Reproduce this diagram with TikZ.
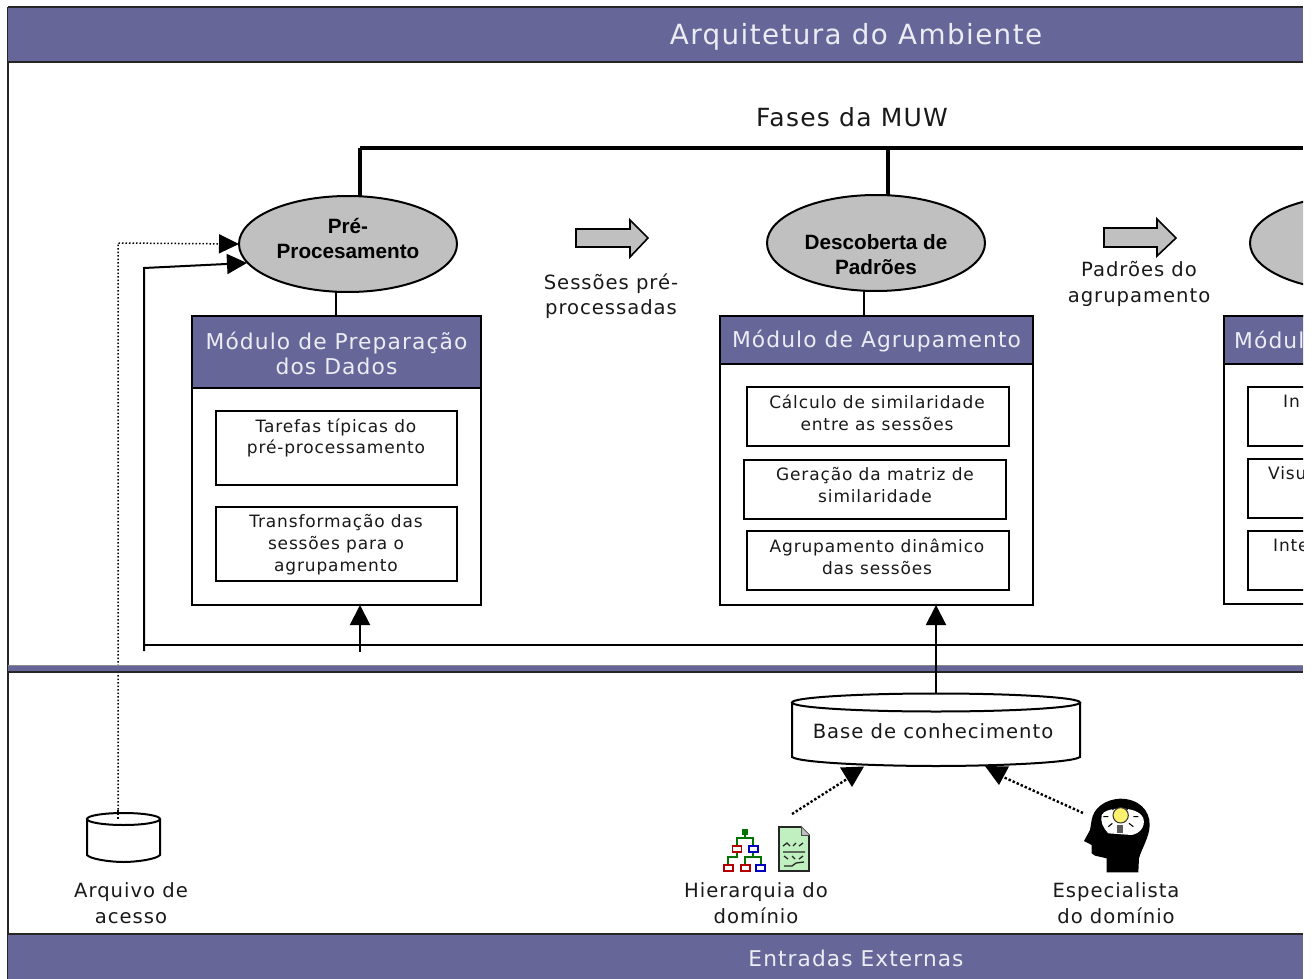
\documentclass[tikz,border=0pt]{standalone}
\usepackage{fontspec}
\usetikzlibrary{arrows.meta,shapes.geometric}
\newfontfamily\labfont[LetterSpace=5]{DejaVu Sans}
\newfontfamily\boldfont[BoldFont={Liberation Sans Bold}]{Liberation Sans}
\definecolor{band}{HTML}{666699}
\definecolor{ell}{HTML}{C0C0C0}
\definecolor{bandtext}{HTML}{ECECF4}
\tikzset{
  lab/.style={font=\fontsize{19.6}{25.5}\selectfont\labfont,align=center,inner sep=0pt,text=black!90},
  boxlab/.style={font=\fontsize{17}{21.8}\selectfont\labfont,align=center,inner sep=0pt,text=black!90},
  headlab/.style={font=\fontsize{21.8}{25.5}\selectfont\labfont,align=center,inner sep=0pt,text=bandtext},
  phase/.style={draw=black,line width=2pt,fill=ell,ellipse,minimum width=218pt,minimum height=96pt,inner sep=0pt,outer sep=0pt},
  phaselab/.style={font=\fontsize{20.7}{25}\selectfont\boldfont\bfseries,align=center,inner sep=0pt},
  wire/.style={draw=black,line width=2pt},
  heavy/.style={draw=black,line width=3.5pt},
  dots/.style={draw=black,line width=1.5pt,dash pattern=on 1.5pt off 2pt},
  dotsb/.style={draw=black,line width=2.4pt,dash pattern=on 2.4pt off 2pt},
  modbox/.style={draw=black,line width=2pt,fill=white,inner sep=0pt,outer sep=0pt,anchor=north west},
  modhead/.style={draw=black,line width=2pt,fill=band,inner sep=0pt,outer sep=0pt,anchor=north west},
  task/.style={draw=black,line width=2pt,fill=white,inner sep=0pt,outer sep=0pt,anchor=north west},
  bandbar/.style={fill=band,inner sep=0pt,outer sep=0pt,anchor=north west},
  blockarrow/.style={draw=black,line width=1.6pt,fill=ell},
}
\begin{document}
\begin{tikzpicture}[x=1pt,y=-1pt]
\useasboundingbox (0,0) rectangle (1312,979);
\begin{scope}
\clip (0,0) rectangle (1303,979);
% frame left
\draw[line width=2pt,black!85] (8,7) -- (8,979);

% dotted input
\coordinate (acc) at (118,820);
\coordinate (dotcorner) at (118,243);
\coordinate (solidstart) at (144,651);
\coordinate (solidcorner) at (144,268);

% phases
\node[phase] (pre) at (348,244) {};
\node[phaselab] at (348,238.5) {Pré-\\Procesamento};
\node[phase] (desc) at (876,243) {};
\node[phaselab] at (876,254.5) {Descoberta de\\Padrões};
\node[phase] (third) at (1359,243) {};

% heavy bar
\coordinate (barleft) at (360,148);
\coordinate (barright) at (1303,148);
\draw[heavy] (barleft) -- (barright);
\draw[heavy] (barleft) -- (pre.north -| barleft);
\coordinate (barmid) at (888,148);
\draw[heavy] (barmid) -- (888,196);

% modules
\node[modbox,minimum width=289pt,minimum height=289pt] (m1) at (192,316) {};
\node[modhead,minimum width=289pt,minimum height=72pt] (h1) at (192,316) {};
\node[headlab] at (336.5,353.5) {Módulo de Preparação\\dos Dados};
\node[modbox,minimum width=313pt,minimum height=289pt] (m2) at (720,316) {};
\node[modhead,minimum width=313pt,minimum height=48pt] (h2) at (720,316) {};
\node[headlab] at (876.5,341.5) {Módulo de Agrupamento};
\node[modbox,minimum width=200pt,minimum height=288pt] (m3) at (1224,316) {};
\node[modhead,minimum width=200pt,minimum height=48pt] (h3) at (1224,316) {};
\node[headlab,anchor=west] at (1234,340) {Módul};

\draw[wire] (pre.south -| 336,0) -- (h1.north -| 336,0);
\draw[wire] (desc.south -| 864,0) -- (h2.north -| 864,0);

% tasks
\node[task,minimum width=241pt,minimum height=74pt] at (216,411) {};
\node[boxlab] at (336,438) {Tarefas típicas do\\pré-processamento};
\node[task,minimum width=241pt,minimum height=74pt] at (216,507) {};
\node[boxlab] at (336,544.5) {Transformação das\\sessões para o\\agrupamento};
\node[task,minimum width=262pt,minimum height=59pt] at (747,387) {};
\node[boxlab] at (877,412.5) {Cálculo de similaridade\\entre as sessões};
\node[task,minimum width=262pt,minimum height=59pt] at (744,460) {};
\node[boxlab] at (875,485) {Geração da matriz de\\similaridade};
\node[task,minimum width=262pt,minimum height=59pt] at (747,531) {};
\node[boxlab] at (877,556.5) {Agrupamento dinâmico\\das sessões};
\node[task,minimum width=200pt,minimum height=59pt] at (1248,387) {};
\node[boxlab,anchor=west] at (1283,401) {In};
\node[task,minimum width=200pt,minimum height=59pt] at (1248,459) {};
\node[boxlab,anchor=west] at (1268,473) {Visu};
\node[task,minimum width=200pt,minimum height=59pt] at (1248,531) {};
\node[boxlab,anchor=west] at (1273,545) {Inte};

% feedback lines
\draw[dots,-{Triangle[length=20pt,width=19pt]}] (acc) -- (dotcorner) -- (pre.west);
\draw[wire,-{Triangle[length=20pt,width=20pt]}] (solidstart) -- (solidcorner) -- (247,263);
\coordinate (busleft) at (144,645);
\coordinate (busright) at (1303,645);
\draw[wire] (busleft) -- (busright);
\coordinate (upstart) at (360,652);
\draw[wire,-{Triangle[length=20pt,width=20pt]}] (upstart) -- (m1.south -| upstart);

% bands
\node[bandbar,minimum width=1295pt,minimum height=55pt] (top) at (8,7) {};
\draw[line width=2pt,black!85] (top.north west) -- (top.north east);
\draw[line width=2pt,black!85] (top.south west) -- (top.south east);
\node[headlab,font=\fontsize{27.8}{30}\selectfont\labfont] at (856,36.5) {Arquitetura do Ambiente};
\node[bandbar,minimum width=1295pt,minimum height=7pt] (mid) at (8,665) {};
\draw[line width=1pt,black!45] (mid.north west) -- (mid.north east);
\draw[line width=1.6pt,black!85] (mid.south west) -- (mid.south east);
\node[bandbar,minimum width=1295pt,minimum height=45pt] (bot) at (8,934) {};
\draw[line width=2pt,black!85] (bot.north west) -- (bot.north east);
\node[headlab,font=\fontsize{21.7}{24}\selectfont\labfont] at (856,958) {Entradas Externas};

\node[lab,font=\fontsize{25}{28}\selectfont\labfont] at (852,117) {Fases da MUW};

% block arrows and labels
\draw[blockarrow] (576,229) -- (630,229) -- (630,220) -- (648,238) -- (630,257) -- (630,247) -- (576,247) -- cycle;
\node[lab] at (611,296) {Sessões pré-\\processadas};
\draw[blockarrow] (1104,228) -- (1157,228) -- (1157,219) -- (1176,238) -- (1157,256) -- (1157,247) -- (1104,247) -- cycle;
\node[lab] at (1139,284) {Padrões do\\agrupamento};

% knowledge base
\draw[line width=2pt,fill=white] (792,702) -- (792,757) .. controls (800,763) and (880,766) .. (936,766) .. controls (992,766) and (1072,763) .. (1080,757) -- (1080,702);
\draw[line width=2pt,fill=white] (936,702.5) ellipse [x radius=144, y radius=9];
\node[lab] (kb) at (933,731) {Base de conhecimento};
\coordinate (kbtop) at (936,693.5);
\draw[wire,-{Triangle[length=20pt,width=20pt]}] (kbtop) -- (m2.south -| kbtop);

% file cylinder
\draw[line width=2pt,fill=white] (87,819) -- (87,855) .. controls (90,859) and (110,862) .. (123.5,862) .. controls (137,862) and (157,859) .. (160,855) -- (160,819);
\draw[line width=2pt,fill=white] (123.5,819) ellipse [x radius=36.5, y radius=6];
\draw[dots] (118,810) -- (acc);
\node[lab] (fileLab) at (131,903) {Arquivo de\\acesso};

% dotted connectors to the base
\coordinate (hier) at (792,814);
\coordinate (hiertip) at (847,779);
\draw[dotsb] (hier) -- (hiertip);
\fill[black] (840,767.5) -- (864,766.5) -- (852,787) -- cycle;
\coordinate (spec) at (1083,813);
\coordinate (spectip) at (1001,776);
\draw[dotsb] (spec) -- (spectip);
\fill[black] (985,766) -- (1009,766.5) -- (999,785) -- cycle;

% hierarchy icon
\begin{scope}[line width=1.4pt]
\draw[green!45!black] (745,832) -- (745,838) (737,849) -- (737,838) -- (753,838) -- (753,849);
\draw[green!45!black] (737,852) -- (737,857) -- (728,857) -- (728,868) (753,852) -- (753,857) -- (745,857) -- (745,868) (753,857) -- (761,857) -- (761,868);
\fill[green!45!black] (742,829) rectangle (748,835);
\draw[red!70!black,fill=white,line width=1.6pt] (732.5,846) rectangle (741.5,852);
\draw[blue!75!black,fill=white,line width=1.6pt] (749,846) rectangle (758,852);
\draw[red!70!black,fill=white,line width=1.6pt] (724,865) rectangle (733,871);
\draw[red!70!black,fill=white,line width=1.6pt] (741,865) rectangle (750,871);
\draw[blue!75!black,fill=white,line width=1.6pt] (756,865) rectangle (765,871);
\end{scope}
\draw[line width=1.6pt,draw=black!85,fill={rgb,255:red,192;green,240;blue,192}] (779,827) -- (801,827) -- (809,835) -- (809,871) -- (779,871) -- cycle;
\draw[line width=1pt,draw=black!70,fill=black!25] (801,827) -- (801,835) -- (809,835);
\draw[line width=1.3pt,black!85] (783,846) -- (787,843) -- (790,846) (793,846) -- (796,843) (799,846) -- (803,843) (783,852) -- (805,852) (784,856) -- (788,859) (792,856) -- (795,859) (799,859) -- (803,856) (784,866) -- (792,866) -- (796,863) -- (804,862);

% head icon
\begin{scope}[shift={(1075,790)},scale=0.3333]
\fill[black] (50,90) .. controls (55,55) and (90,28) .. (135,26) .. controls (190,26) and (225,60) .. (224,105)
  .. controls (224,140) and (200,175) .. (192,205) -- (190,247) -- (95,247) -- (95,205) -- (60,197) -- (50,190) -- (50,165) -- (27,153) -- (45,120) -- cycle;
\fill[white] (80,75) .. controls (90,50) and (190,45) .. (205,85) .. controls (212,110) and (195,130) .. (170,135) -- (100,130) .. controls (85,115) and (75,95) .. (80,75) -- cycle;
\draw[black,line width=1.1pt] (105,45) -- (115,60) (165,45) -- (155,60) (85,80) -- (100,80) (175,80) -- (190,80) (100,110) -- (112,100) (175,110) -- (162,100);
\draw[black!80,line width=1pt,fill={rgb,255:red,255;green,240;blue,110}] (137,76) circle [radius=23];
\fill[black!65] (127,105) rectangle (145,128);
\end{scope}

\node[lab] (hierLab) at (756,903) {Hierarquia do\\domínio};
\node[lab] (specLab) at (1116,903) {Especialista\\do domínio};
\end{scope}
\end{tikzpicture}
\end{document}
